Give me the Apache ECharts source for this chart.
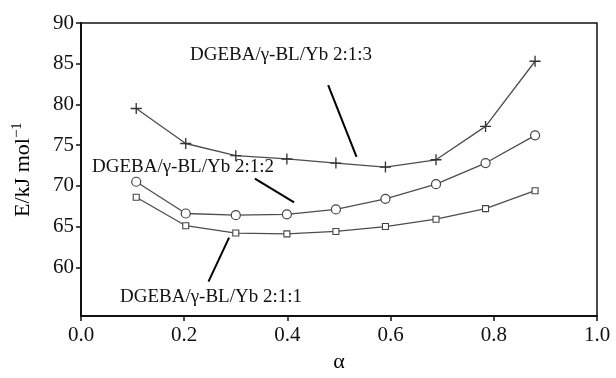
<!DOCTYPE html>
<html><head><meta charset="utf-8">
<script src="https://cdn.jsdelivr.net/npm/echarts@6/dist/echarts.min.js"></script>
<style>html,body{margin:0;padding:0;background:#fff}#c{width:616px;height:378px}</style>
</head><body><div id="c"></div>
<script>
// data
const alpha = [0.107, 0.203, 0.300, 0.399, 0.494, 0.590, 0.688, 0.784, 0.880];
const e213 = [79.5, 75.2, 73.7, 73.3, 72.8, 72.3, 73.2, 77.3, 85.3];
const e212 = [70.5, 66.6, 66.4, 66.5, 67.1, 68.4, 70.2, 72.8, 76.2];
const e211 = [68.6, 65.1, 64.2, 64.1, 64.4, 65.0, 65.9, 67.2, 69.4];
const xTicks = [0, 0.2, 0.4, 0.6, 0.8, 1.0];
const yTicks = [60, 65, 70, 75, 80, 85, 90];
const names = ['DGEBA/γ-BL/Yb 2:1:3', 'DGEBA/γ-BL/Yb 2:1:2', 'DGEBA/γ-BL/Yb 2:1:1'];
// leader lines in data coordinates [x1,y1,x2,y2]
const lead213 = [0.479, 82.36, 0.534, 73.56];
const lead212 = [0.337, 70.88, 0.413, 67.96];
const lead211 = [0.287, 63.64, 0.247, 58.24];

const FONT = '"Liberation Serif", "DejaVu Serif", serif';
const lineCol = '#4d4d4d';
const plusPath = 'path://M4.4,0H5.6V4.4H10V5.6H5.6V10H4.4V5.6H0V4.4H4.4Z';

function pairs(ys) { return alpha.map((a, i) => [a, ys[i]]); }
function lead(l) {
  return {
    silent: true, symbol: 'none', animation: false,
    label: { show: false },
    lineStyle: { color: '#000', width: 2, type: 'solid' },
    data: [[{ coord: [l[0], l[1]] }, { coord: [l[2], l[3]] }]]
  };
}

const chart = echarts.init(document.getElementById('c'), null, { renderer: 'canvas' });
chart.setOption({
  animation: false,
  backgroundColor: '#fff',
  textStyle: { fontFamily: FONT },
  grid: { left: 81, right: 19, top: 23, bottom: 55, show: true, borderColor: '#111', borderWidth: 1.5, containLabel: false },
  xAxis: {
    type: 'value', min: 0, max: 1, interval: 0.2,
    name: 'α', nameLocation: 'middle', nameGap: 30,
    nameTextStyle: { color: '#000', fontSize: 22, fontFamily: FONT },
    axisLine: { lineStyle: { color: '#111', width: 2 } },
    axisTick: { show: true, inside: false, length: 5, lineStyle: { color: '#111', width: 1.5 } },
    axisLabel: { color: '#111', fontSize: 21, fontFamily: FONT, margin: 9, formatter: v => v.toFixed(1), customValues: xTicks },
    splitLine: { show: false }
  },
  yAxis: {
    type: 'value', min: 54, max: 90, interval: 1,
    name: 'E/kJ mol{sup|−1}', nameLocation: 'middle', nameGap: 44, nameRotate: 90,
    nameTextStyle: { color: '#000', fontSize: 22, fontFamily: FONT,
      rich: { sup: { fontSize: 15, fontFamily: FONT, color: '#000', padding: [0, 0, 12, 0] } } },
    axisLine: { lineStyle: { color: '#111', width: 2 } },
    axisTick: { show: true, inside: false, length: 5, lineStyle: { color: '#111', width: 1.5 }, customValues: yTicks },
    axisLabel: { color: '#111', fontSize: 21, fontFamily: FONT, margin: 7, customValues: yTicks },
    splitLine: { show: false }
  },
  series: [
    {
      name: names[0], type: 'line', data: pairs(e213),
      symbol: plusPath, symbolSize: 11,
      lineStyle: { color: lineCol, width: 1.3 },
      itemStyle: { color: '#333' },
      markLine: lead(lead213)
    },
    {
      name: names[1], type: 'line', data: pairs(e212),
      symbol: 'circle', symbolSize: 9,
      lineStyle: { color: lineCol, width: 1.3 },
      itemStyle: { color: '#fff', borderColor: '#444', borderWidth: 1.2 },
      markLine: lead(lead212)
    },
    {
      name: names[2], type: 'line', data: pairs(e211),
      symbol: 'rect', symbolSize: 6,
      lineStyle: { color: lineCol, width: 1.3 },
      itemStyle: { color: '#fff', borderColor: '#444', borderWidth: 1.1 },
      markLine: lead(lead211)
    }
  ],
  graphic: [
    { type: 'text', left: 190, top: 46, style: { text: names[0], font: '19px ' + FONT, fill: '#111' } },
    { type: 'text', left: 92, top: 158, style: { text: names[1], font: '19px ' + FONT, fill: '#111' } },
    { type: 'text', left: 120, top: 288, style: { text: names[2], font: '19px ' + FONT, fill: '#111' } }
  ]
});
</script>
</body></html>
